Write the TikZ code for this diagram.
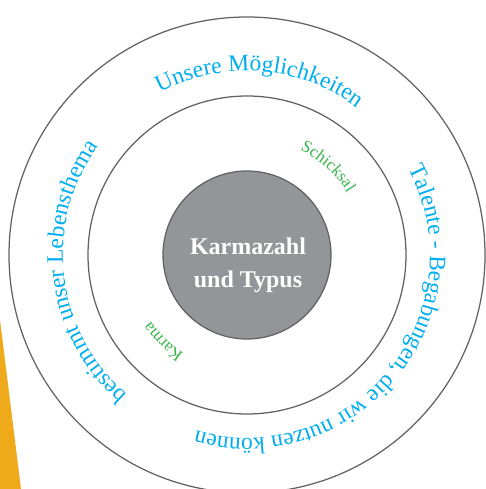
\documentclass[tikz,border=0pt]{standalone}
\usepackage{fontspec}
\setmainfont{Liberation Serif}
\usetikzlibrary{decorations.text}
\definecolor{ringgray}{RGB}{98,98,100}
\definecolor{coregray}{RGB}{147,149,152}
\definecolor{skyblue}{RGB}{0,174,239}
\definecolor{leafgreen}{RGB}{57,181,74}
\definecolor{amber}{RGB}{238,170,26}
\newcommand{\bigarcfont}{\fontsize{23.5}{23.5}\selectfont}
\newcommand{\smallarcfont}{\fontsize{17}{17}\selectfont}

\begin{document}
\begin{tikzpicture}[x=1pt,y=1pt,
  ring/.style={circle,draw=ringgray,line width=1.25pt,inner sep=0pt},
  outer words/.style={decorate,decoration={text along path,text align=center,text color=skyblue,text={|\bigarcfont|#1}}},
  inner words/.style={decorate,decoration={text along path,text align=center,text color=leafgreen,text={|\smallarcfont|#1}}}]
  \useasboundingbox (-247,-234) rectangle (238,255);
  %corner
  \fill[amber] (-247,-65) -- (-226,-234) -- (-247,-234) -- cycle;
  %rings
  \node[ring,minimum size=476pt] (outer) at (0,0) {};
  \node[ring,minimum size=318pt] (middle) at (0,0) {};
  \node[ring,fill=coregray,minimum size=168pt] (core) at (0,0) {};
  \node[text=white,align=center,font=\bfseries\fontsize{24}{33}\selectfont] (core text) at (1,-10) {Karmazahl\\und Typus};
  %outer texts
  \path[outer words={Unsere Möglichkeiten}] (160:184) arc[start angle=160,end angle=11.4,radius=184];
  \path[outer words={Talente - Begabungen, die wir nutzen können}] (60:183) arc[start angle=60,end angle=-138,radius=183];
  \path[outer words={bestimmt unser Lebensthema}] (250:184) arc[start angle=250,end angle=123,radius=184];
  %inner texts
  \path[inner words={Schicksal}] (90:118) arc[start angle=90,end angle=5,radius=118];
  \path[inner words={Karma}] (260:117) arc[start angle=260,end angle=192,radius=117];
\end{tikzpicture}
\end{document}
